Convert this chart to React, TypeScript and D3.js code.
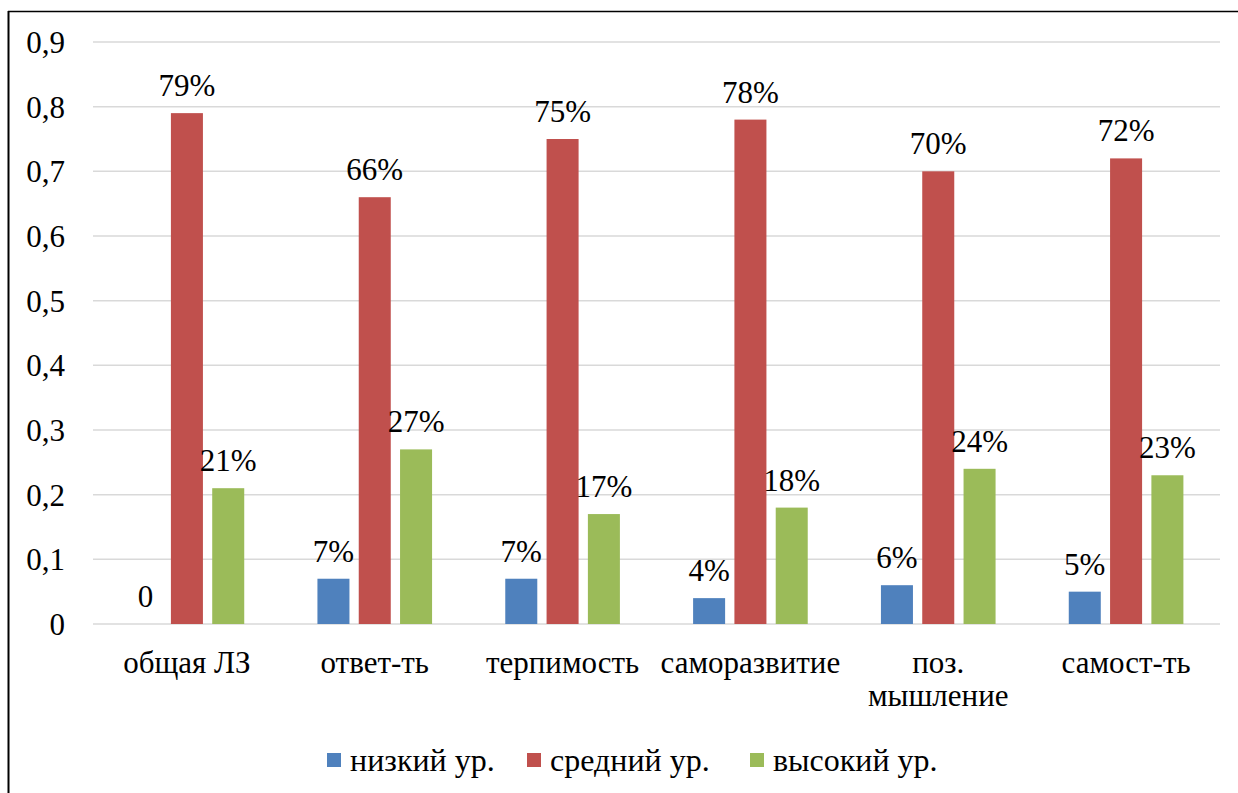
import React from "react";
import * as d3 from "d3";

const categories: string[][] = [
  ["общая ЛЗ"],
  ["ответ-ть"],
  ["терпимость"],
  ["саморазвитие"],
  ["поз.", "мышление"],
  ["самост-ть"],
];
const seriesNames = ["низкий ур.", "средний ур.", "высокий ур."];
const seriesColors = ["#4f81bd", "#c0504d", "#9bbb59"];
const low = [0, 0.07, 0.07, 0.04, 0.06, 0.05];
const mid = [0.79, 0.66, 0.75, 0.78, 0.7, 0.72];
const high = [0.21, 0.27, 0.17, 0.18, 0.24, 0.23];
const yTicks = [0, 0.1, 0.2, 0.3, 0.4, 0.5, 0.6, 0.7, 0.8, 0.9];

const series = [low, mid, high];
const FONT = "Liberation Serif";

export default function App() {
  const W = 1238, H = 793;
  const left = 93, right = 1220, top = 42, bottom = 624;
  const x = d3.scaleBand<number>().domain(d3.range(categories.length)).range([left, right]).paddingInner(0).paddingOuter(0);
  const y = d3.scaleLinear().domain([0, 0.9]).range([bottom, top]);
  const inner = d3.scaleBand<number>().domain([0, 1, 2]).range([0, x.bandwidth()]).paddingInner(0.225).paddingOuter(0.886);
  const fmt = (v: number) => (v === 0 ? "0" : Math.round(v * 100) + "%");
  const fmtTick = (v: number) => (v === 0 ? "0" : d3.format(".1f")(v).replace(".", ","));
  const legendX = [327, 527, 750];
  const ts = { fontFamily: FONT, fontSize: 31 } as React.CSSProperties;
  const ls = { fontFamily: FONT, fontSize: 32 } as React.CSSProperties;

  return (
    <svg width={W} height={H} style={{ position: "absolute", left: 0, top: 0, background: "#fff" }}>
      <rect x={0} y={0} width={W} height={H} fill="#fff" />
      <line x1={8} x2={W + 2} y1={11.5} y2={11.5} stroke="#000" strokeWidth={1.6} />
      <line x1={8.5} x2={8.5} y1={11} y2={H + 2} stroke="#000" strokeWidth={2} />
      {yTicks.map((t) => (
        <g key={t}>
          <line x1={left} x2={right} y1={y(t)} y2={y(t)} stroke="#d9d9d9" strokeWidth={1.5} />
          <text x={65} y={y(t)} dy={11} textAnchor="end" style={ts} fill="#000">
            {fmtTick(t)}
          </text>
        </g>
      ))}
      {categories.map((c, i) => (
        <g key={i}>
          {series.map((s, j) => {
            const bx = (x(i) as number) + (inner(j) as number);
            const v = s[i];
            return (
              <g key={j}>
                {v > 0 && (
                  <rect x={bx} y={y(v)} width={inner.bandwidth()} height={bottom - y(v)} fill={seriesColors[j]} />
                )}
                <text x={bx + inner.bandwidth() / 2} y={y(v) - 17} textAnchor="middle" style={ts} fill="#000">
                  {fmt(v)}
                </text>
              </g>
            );
          })}
          {c.map((line, k) => (
            <text key={k} x={(x(i) as number) + x.bandwidth() / 2} y={673 + k * 33} textAnchor="middle" style={ts} fill="#000">
              {line}
            </text>
          ))}
        </g>
      ))}
      {seriesNames.map((n, j) => (
        <g key={n}>
          <rect x={legendX[j]} y={753} width={14} height={14} fill={seriesColors[j]} />
          <text x={legendX[j] + 23} y={771} style={ls} fill="#000">
            {n}
          </text>
        </g>
      ))}
    </svg>
  );
}
